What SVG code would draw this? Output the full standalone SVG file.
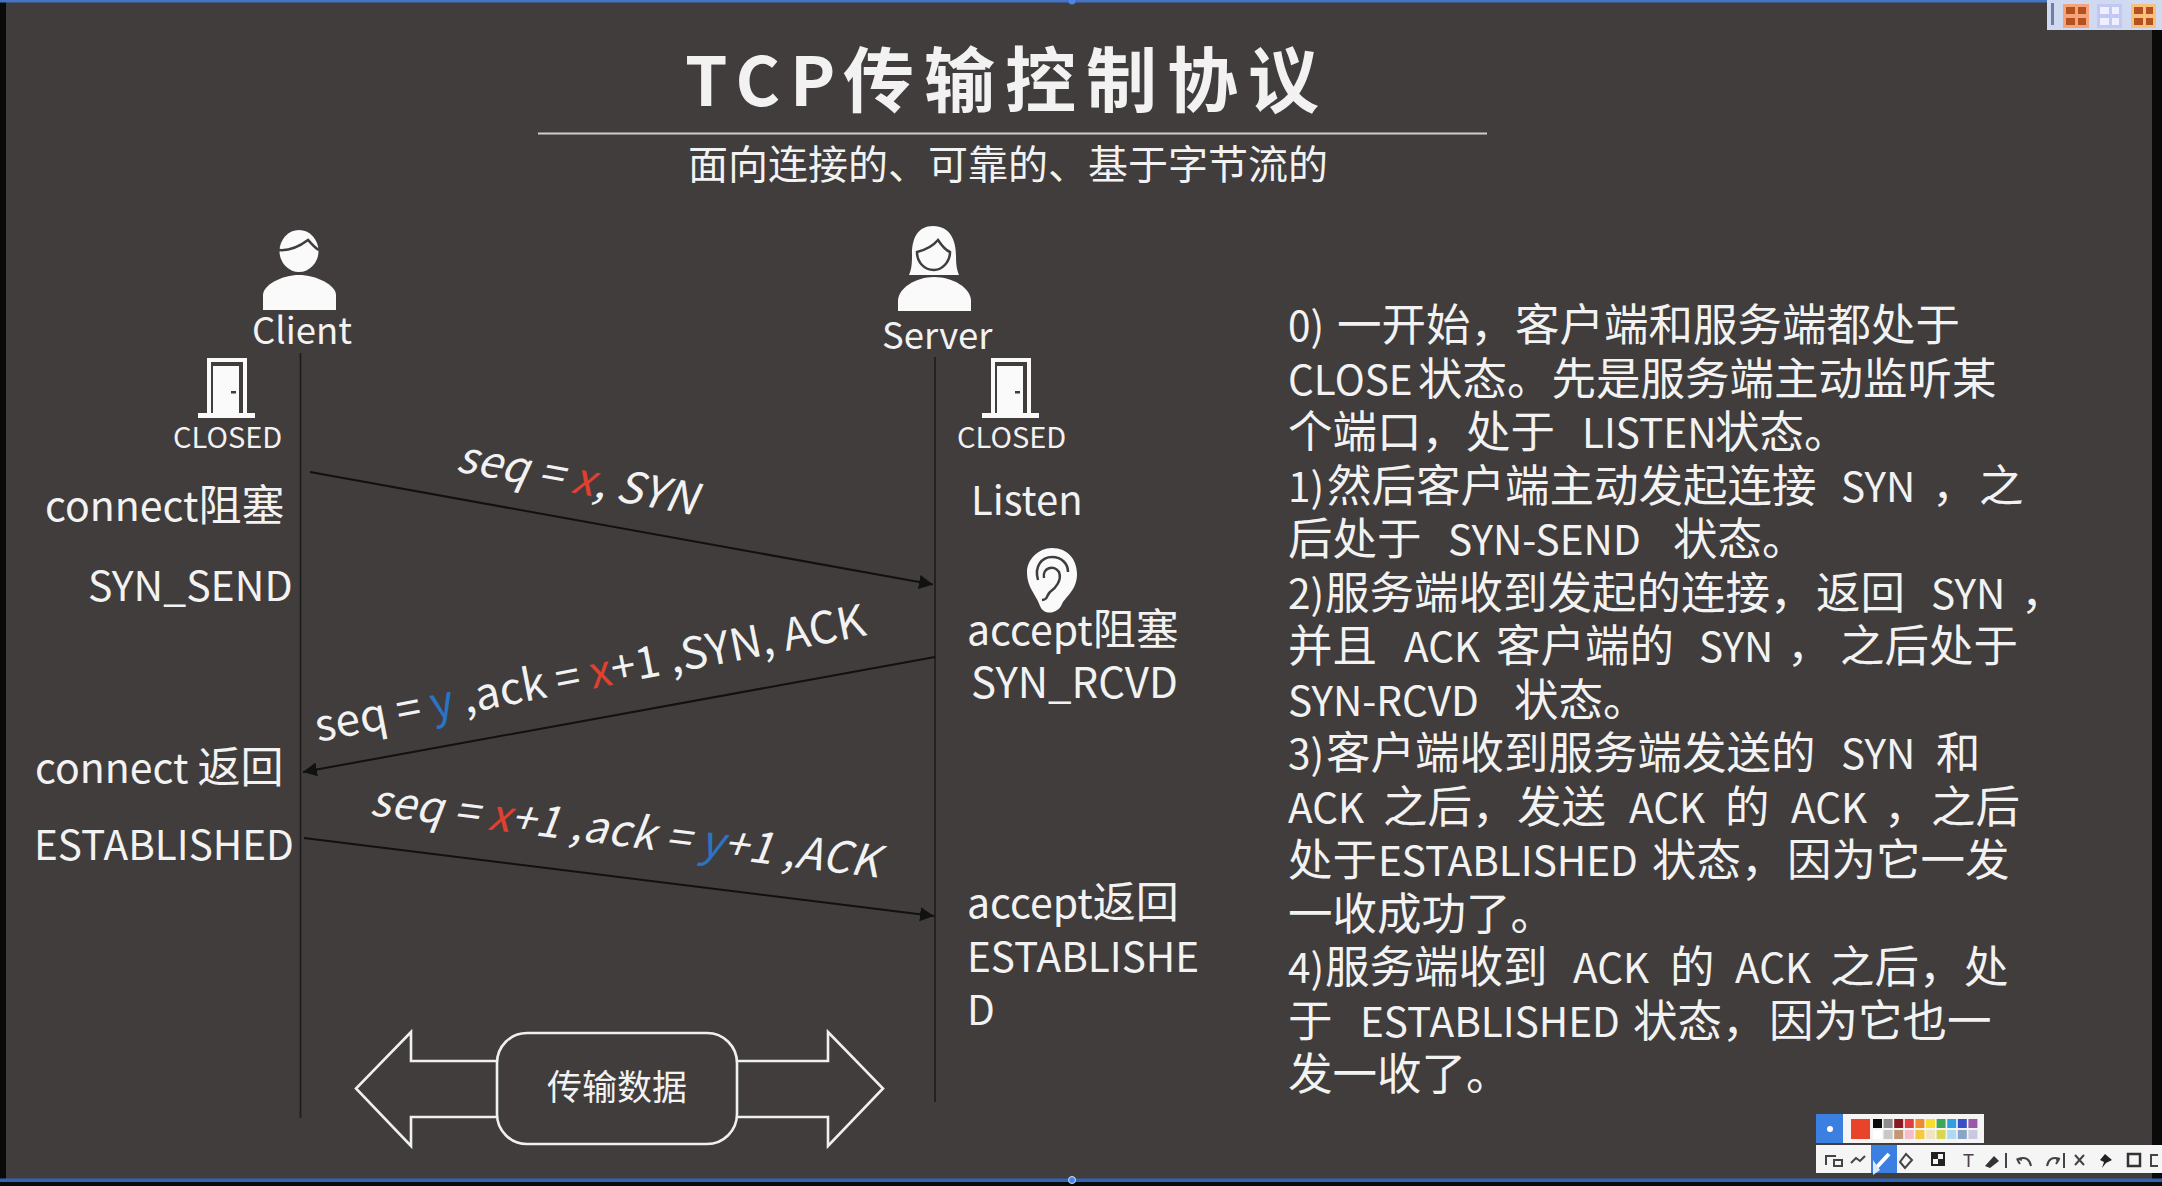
<svg xmlns="http://www.w3.org/2000/svg" width="2162" height="1186" viewBox="0 0 2162 1186">
<style>
text{font-family:"Noto Sans CJK SC","Noto Sans",sans-serif;fill:#f2f2f2;white-space:pre}
.lbl{font-size:41px}
.cjk{font-size:43px}
.body{font-size:44.5px}
.la{font-size:40.5px}
.msg{font-size:44px}
.st{font-size:29px}
.who{font-size:36.500px}
.r{fill:#e0402f}.b{fill:#2b74c4}
.life{stroke:#1c1c1c;stroke-width:1.6;fill:none}
.conn{stroke:#111;stroke-width:2;fill:none;marker-end:url(#ah)}
.out{fill:none;stroke:#f0f0f0;stroke-width:2.6}
.ic{fill:#fafafa}
.k{stroke:#403d3c;fill:none;stroke-width:2.500}
.tb{fill:none;stroke:#444;stroke-width:2}
</style>
<defs>
<marker id="ah" markerUnits="userSpaceOnUse" markerWidth="16" markerHeight="16" refX="14" refY="7" orient="auto"><path d="M0 0L14 7L0 14z" fill="#111"/></marker>
<g id="door"><path class="ic" d="M0 60V55H9V0H49V55H57V60z"/><rect x="13" y="4" width="32" height="51" fill="#403d3c"/><rect class="ic" x="15" y="8" width="26" height="50"/><rect x="33" y="33" width="5" height="2.500" fill="#403d3c"/></g>
</defs>
<rect width="2162" height="1186" fill="#403d3c"/>
<rect width="6" height="1186" fill="#0a0a0a"/>
<rect x="2152" width="10" height="1186" fill="#0a0a0a"/>
<rect width="2162" height="2.500" fill="#4472c4"/>
<rect y="1182" width="2162" height="4" fill="#0a0a0a"/>
<rect y="1178.500" width="2162" height="3.500" fill="#2f64b8"/>
<circle cx="1072" cy="1" r="3.500" fill="#4a86e8"/>
<circle cx="1072" cy="1180" r="3.500" fill="#4a86e8" stroke="#cfe0ff"/>

<g id="title"><text x="685" y="106" font-size="71" font-weight="700" letter-spacing="10" fill="#fff"><tspan style="font-size:68px">TCP</tspan><tspan x="843">传输控制协议</tspan></text>
<line x1="538" y1="133.500" x2="1487" y2="133.500" stroke="#d0cecc" stroke-width="1.800"/>
<text x="688" y="179" font-size="40">面向连接的、可靠的、基于字节流的</text></g>

<g id="connectors">
<line class="life" x1="300.500" y1="353" x2="300.500" y2="1118"/>
<line class="life" x1="935" y1="357" x2="935" y2="1102"/>
<line class="conn" x1="310" y1="472" x2="933" y2="584.500"/>
<line class="conn" x1="935" y1="657" x2="303" y2="772"/>
<line class="conn" x1="304" y1="838" x2="934" y2="916"/>
</g>

<g id="client"><ellipse class="ic" cx="299" cy="251" rx="19.500" ry="21"/><path class="k" d="M279 250C290 251 300 246 308 240C312 244 315 248 319 250"/><path class="ic" d="M263 310V295C263 285 282 275 299 275C316 275 336 285 336 295V310z"/>
<text class="who" x="252" y="344">Client</text></g>
<g id="server"><path class="ic" d="M933 226C950 226 956 240 956 256C956 266 957 270 959 275L909 275C912 268 912 262 912 254C912 238 918 226 933 226z"/><path class="k" d="M917 252C925 250 933 246 938 240C942 246 945 250 950 252C950 262 942 270 934 270C924 270 917 262 917 252z"/><path class="ic" d="M898 311V301C898 288 916 277 934 277C953 277 971 288 971 301V311z"/>
<text class="who" x="882" y="349">Server</text></g>
<g id="client-closed"><use href="#door" x="198" y="358"/><text class="st" x="173" y="448">CLOSED</text></g>
<g id="server-closed"><use href="#door" x="982" y="358"/><text class="st" x="957" y="448">CLOSED</text></g>
<g id="client-states">
<text class="lbl" x="45" y="521">connect<tspan class="cjk">阻塞</tspan></text>
<text class="lbl" x="88" y="601">SYN_SEND</text>
<text class="lbl" x="35" y="783">connect <tspan class="cjk">返回</tspan></text>
<text class="la" x="34" y="860">ESTABLISHED</text>
</g>
<g id="server-states">
<text class="lbl" x="971" y="515" style="font-size:40px">Listen</text>
<g id="ear"><path class="ic" d="M1052 548C1068 548 1077 560 1077 574C1077 590 1066 596 1062 604C1058 614 1044 616 1040 606C1036 594 1027 588 1027 572C1027 560 1038 548 1052 548z"/><path class="k" d="M1038 580C1034 566 1042 557 1052 557C1062 557 1068 564 1068 572"/><path class="k" d="M1044 578C1042 568 1054 564 1059 572C1062 580 1056 588 1050 592C1046 596 1048 600 1042 600"/></g>
<text class="lbl" x="967" y="645">accept<tspan class="cjk">阻塞</tspan></text>
<text class="lbl" x="971" y="698" style="font-size:42px">SYN_RCVD</text>
<text class="lbl" x="967" y="918">accept<tspan class="cjk">返回</tspan></text>
<text class="la" x="967" y="972">ESTABLISHE</text>
<text class="la" x="967" y="1025">D</text>
</g>
<g id="msg-labels">
<text class="msg" font-style="italic" textLength="243" lengthAdjust="spacing" transform="translate(455 471) rotate(10.500)">seq = <tspan class="r">x</tspan>, SYN</text>
<text class="msg" textLength="560" lengthAdjust="spacing" transform="translate(318 742) rotate(-11)">seq = <tspan class="b">y</tspan> ,ack = <tspan class="r">x</tspan>+1 ,SYN, ACK</text>
<text class="msg" font-style="italic" textLength="512" lengthAdjust="spacing" transform="translate(369 815) rotate(7)">seq = <tspan class="r">x</tspan>+1 ,ack = <tspan class="b">y</tspan>+1 ,ACK</text>
</g>
<g id="transfer">
<path class="out" d="M497 1061H411V1032L356 1088.500L411 1146V1117H497"/>
<path class="out" d="M737 1061H828V1032L883 1088.500L828 1146V1117H737"/>
<rect class="out" x="497" y="1033" width="240" height="111" rx="30"/>
<text x="547" y="1100" font-size="35">传输数据</text>
</g>
<g id="explanation">
<text class="body" y="340.500"><tspan class="la" x="1288">0) </tspan><tspan x="1337">一开始，客户端和服务端都处于</tspan></text>
<text class="body" y="394.500"><tspan class="la" x="1288">CLOSE</tspan><tspan x="1418">状态。先是服务端主动监听某</tspan></text>
<text class="body" y="447.500"><tspan x="1288">个端口，</tspan><tspan x="1466">处于</tspan><tspan class="la" x="1582">LISTEN</tspan><tspan x="1715">状态。</tspan></text>
<text class="body" y="501.500"><tspan class="la" x="1288">1)</tspan><tspan x="1327">然后客户端主动发起连接</tspan><tspan class="la" x="1841">SYN</tspan><tspan x="1932">，</tspan><tspan x="1979">之</tspan></text>
<text class="body" y="554.500"><tspan x="1288">后处于</tspan><tspan class="la" x="1448">SYN-SEND</tspan><tspan x="1673">状态。</tspan></text>
<text class="body" y="608.500"><tspan class="la" x="1288">2)</tspan><tspan x="1325">服务端收到发起的连接，</tspan><tspan x="1816">返回</tspan><tspan class="la" x="1931">SYN</tspan><tspan x="2021">，</tspan></text>
<text class="body" y="661.500"><tspan x="1288">并且</tspan><tspan class="la" x="1404">ACK</tspan><tspan x="1496">客户端的</tspan><tspan class="la" x="1699">SYN</tspan><tspan x="1787">，</tspan><tspan x="1840">之后处于</tspan></text>
<text class="body" y="715.500"><tspan class="la" x="1288">SYN-RCVD</tspan><tspan x="1514">状态。</tspan></text>
<text class="body" y="768.500"><tspan class="la" x="1288">3)</tspan><tspan x="1326">客户端收到服务端发送的</tspan><tspan class="la" x="1841">SYN</tspan><tspan x="1936">和</tspan></text>
<text class="body" y="822.500"><tspan class="la" x="1288">ACK</tspan><tspan x="1383">之后，</tspan><tspan x="1517">发送</tspan><tspan class="la" x="1629">ACK</tspan><tspan x="1725">的</tspan><tspan class="la" x="1791">ACK</tspan><tspan x="1884">，</tspan><tspan x="1931">之后</tspan></text>
<text class="body" y="875.500"><tspan x="1288">处于</tspan><tspan class="la" x="1378">ESTABLISHED</tspan><tspan x="1652">状态，</tspan><tspan x="1787">因为它一发</tspan></text>
<text class="body" x="1288" y="929.500">一收成功了。</text>
<text class="body" y="982.500"><tspan class="la" x="1288">4)</tspan><tspan x="1325">服务端收到</tspan><tspan class="la" x="1573">ACK</tspan><tspan x="1670">的</tspan><tspan class="la" x="1735">ACK</tspan><tspan x="1830">之后，</tspan><tspan x="1964">处</tspan></text>
<text class="body" y="1036.500"><tspan x="1288">于</tspan><tspan class="la" x="1360">ESTABLISHED</tspan><tspan x="1633">状态，</tspan><tspan x="1769">因为它也一</tspan></text>
<text class="body" x="1288" y="1089.500">发一收了。</text>
</g>
<g id="toolbar-top">
<rect x="2047" width="115" height="30" fill="#cfdaf0"/>
<rect x="2051" y="3" width="3" height="22" fill="#6d7fa8"/>
<rect x="2063" y="4" width="26" height="24" fill="#f6a37c"/>
<rect x="2097" y="4" width="25" height="24" fill="#c2c8f2"/>
<rect x="2131" y="4" width="25" height="24" fill="#f8c07c"/>
<path d="M2066 7H2075V14H2066zM2078 7H2086V14H2078zM2066 18H2075V25H2066zM2078 18H2086V25H2078zM2134 7H2143V14H2134zM2146 7H2153V14H2146zM2134 18H2143V25H2134zM2146 18H2153V25H2146z" fill="#b4521f"/>
<path d="M2100 7H2109V14H2100zM2112 7H2119V14H2112zM2100 18H2109V25H2100zM2112 18H2119V25H2112z" fill="#eef0ff"/>
</g>
<g id="toolbar-bottom">
<rect x="1816" y="1114" width="27" height="29" fill="#3b7fe0"/><circle cx="1830" cy="1129" r="3" fill="#fff"/>
<rect x="1843" y="1114" width="141" height="29" fill="#f5f5f5"/>
<rect x="1851" y="1119" width="19" height="20" fill="#e8442c"/>
<g id="palette-top"><rect x="1873" y="1119" width="9" height="9" fill="#0a0a0a"/><rect x="1883.600" y="1119" width="9" height="9" fill="#8c8c8c"/><rect x="1894.200" y="1119" width="9" height="9" fill="#8a1a22"/><rect x="1904.800" y="1119" width="9" height="9" fill="#e0403c"/><rect x="1915.400" y="1119" width="9" height="9" fill="#f08c30"/><rect x="1926" y="1119" width="9" height="9" fill="#f8dc30"/><rect x="1936.600" y="1119" width="9" height="9" fill="#3fa858"/><rect x="1947.200" y="1119" width="9" height="9" fill="#30a0e0"/><rect x="1957.800" y="1119" width="9" height="9" fill="#3850c8"/><rect x="1968.400" y="1119" width="9" height="9" fill="#9a58a8"/></g>
<g id="palette-bottom"><rect x="1873" y="1130" width="9" height="9" fill="#fff"/><rect x="1883.600" y="1130" width="9" height="9" fill="#c8c8c8"/><rect x="1894.200" y="1130" width="9" height="9" fill="#c09878"/><rect x="1904.800" y="1130" width="9" height="9" fill="#f8bcc8"/><rect x="1915.400" y="1130" width="9" height="9" fill="#f4c840"/><rect x="1926" y="1130" width="9" height="9" fill="#efe6c0"/><rect x="1936.600" y="1130" width="9" height="9" fill="#d8d850"/><rect x="1947.200" y="1130" width="9" height="9" fill="#b0d8f0"/><rect x="1957.800" y="1130" width="9" height="9" fill="#88a4c8"/><rect x="1968.400" y="1130" width="9" height="9" fill="#c8c8e0"/></g>
<rect x="1816" y="1145" width="346" height="28" fill="#f5f5f5"/>
<rect x="1871" y="1145" width="26" height="28" fill="#3b7fe0"/>
<path class="tb" d="M1826 1165V1156H1836M1834 1166H1842V1160H1834z"/>
<path class="tb" d="M1851 1163L1856 1158L1860 1161L1865 1156"/>
<path d="M1876 1168L1889 1154" stroke="#fff" stroke-width="4"/>
<path d="M1873 1160L1873 1175L1880 1170z" fill="#dfe8f8"/>
<path class="tb" d="M1905 1168L1900 1162L1906 1154L1912 1160z"/>
<rect x="1932" y="1153" width="12" height="12" fill="none" stroke="#222" stroke-width="2"/><rect x="1938" y="1159" width="6" height="6" fill="#222"/><rect x="1932" y="1153" width="6" height="6" fill="#222"/>
<text x="1963" y="1167" font-size="18" style="fill:#444;font-family:'Liberation Sans',sans-serif">T</text>
<path d="M1985 1166L1994 1156L1999 1161L1990 1168z" fill="#333"/>
<path class="tb" d="M2006 1153V1168M2064 1153V1168"/>
<path class="tb" d="M2022 1160C2016 1158 2016 1158 2020 1164M2018 1159C2026 1156 2030 1160 2031 1166M2056 1160C2060 1158 2060 1158 2056 1164M2060 1159C2052 1156 2048 1160 2047 1166"/>
<path class="tb" d="M2075 1155L2084 1165M2084 1155L2075 1165"/>
<path d="M2105 1154L2112 1160L2106 1163L2102 1168L2104 1162L2100 1160z" fill="#222"/>
<rect x="2128" y="1154" width="12" height="12" fill="none" stroke="#333" stroke-width="2.500"/>
<path class="tb" d="M2158 1155H2151V1166H2158"/>
</g>
</svg>
